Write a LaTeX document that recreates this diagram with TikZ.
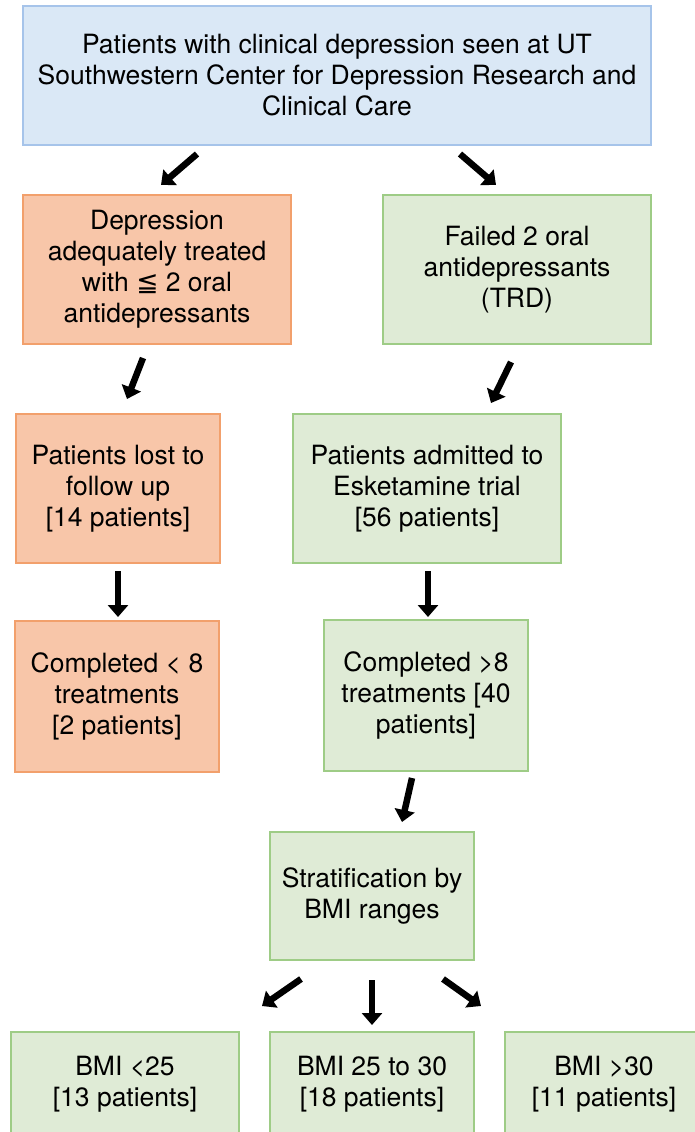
\documentclass[tikz,border=0pt]{standalone}
\usepackage{fontspec}
\setmainfont{TeX Gyre Heros}
\newfontfamily\symfont{DejaVu Sans}
\usetikzlibrary{arrows.meta}
\definecolor{bluefill}{HTML}{DAE8F6}
\definecolor{bluedraw}{HTML}{A6C4EA}
\definecolor{orfill}{HTML}{F8C6A9}
\definecolor{ordraw}{HTML}{F2A06C}
\definecolor{grfill}{HTML}{DFEBD6}
\definecolor{grdraw}{HTML}{9ECC86}
\tikzset{
  box/.style={rectangle, inner sep=0pt, line width=1.2pt, align=center,
    font=\fontsize{26.5}{31}\selectfont},
  bluebox/.style={box, fill=bluefill, draw=bluedraw},
  orbox/.style={box, fill=orfill, draw=ordraw},
  grbox/.style={box, fill=grfill, draw=grdraw},
  blockarrow/.style={line width=6.5pt, -{Triangle[width=20pt,length=12pt]}, black},
}
\begin{document}
\begin{tikzpicture}[x=1pt,y=-1pt]
\useasboundingbox (0,0) rectangle (695,1132);
\clip (0,0) rectangle (695,1132);
\node[bluebox, minimum width=628pt, minimum height=139pt] (top) at (337,75.5)
  {Patients with clinical depression seen at UT\\Southwestern Center for Depression Research and\\Clinical Care};
\node[orbox, minimum width=268pt, minimum height=149pt] (l1) at (157,269.5)
  {Depression\\adequately treated\\with {\symfont ≦} 2 oral\\antidepressants};
\node[grbox, minimum width=268pt, minimum height=149pt] (r1) at (517,269.5)
  {Failed 2 oral\\antidepressants\\(TRD)};
\node[orbox, minimum width=204pt, minimum height=149pt] (l2) at (118,488.5)
  {Patients lost to\\follow up\\{[}14 patients{]}};
\node[grbox, minimum width=268pt, minimum height=149pt] (r2) at (427,488.5)
  {Patients admitted to\\Esketamine trial\\{[}56 patients{]}};
\node[orbox, minimum width=204pt, minimum height=151pt] (l3) at (117,696.5)
  {Completed < 8\\treatments\\{[}2 patients{]}};
\node[grbox, minimum width=204pt, minimum height=151pt] (r3) at (426,695.5)
  {Completed >8\\treatments {[}40\\patients{]}};
\node[grbox, minimum width=204pt, minimum height=128pt] (strat) at (372,896)
  {Stratification by\\BMI ranges};
\node[grbox, minimum width=228pt, minimum height=104pt] (b1) at (125,1084)
  {BMI <25\\{[}13 patients{]}};
\node[grbox, minimum width=204pt, minimum height=104pt] (b2) at (372,1084)
  {BMI 25 to 30\\{[}18 patients{]}};
\node[grbox, minimum width=198pt, minimum height=104pt] (b3) at (604,1084)
  {BMI >30\\{[}11 patients{]}};
% arrow end points
\coordinate (a1s) at (197,154); \coordinate (a1e) at (161,185);
\coordinate (a2s) at (460,154); \coordinate (a2e) at (496,185);
\coordinate (a3s) at (143,358); \coordinate (a3e) at (127,399);
\coordinate (a4s) at (511,362); \coordinate (a4e) at (491,403);
\coordinate (a5s) at (118,571); \coordinate (a5e) at (118,617);
\coordinate (a6s) at (428,571); \coordinate (a6e) at (428,617);
\coordinate (a7s) at (412,778); \coordinate (a7e) at (402,822);
\coordinate (a8s) at (301,979); \coordinate (a8e) at (262,1006);
\coordinate (a9s) at (372,980); \coordinate (a9e) at (372,1025);
\coordinate (a10s) at (443,979); \coordinate (a10e) at (481,1006);
\draw[blockarrow] (a1s) -- (a1e);
\draw[blockarrow] (a2s) -- (a2e);
\draw[blockarrow] (a3s) -- (a3e);
\draw[blockarrow] (a4s) -- (a4e);
\draw[blockarrow] (a5s) -- (a5e);
\draw[blockarrow] (a6s) -- (a6e);
\draw[blockarrow] (a7s) -- (a7e);
\draw[blockarrow] (a8s) -- (a8e);
\draw[blockarrow] (a9s) -- (a9e);
\draw[blockarrow] (a10s) -- (a10e);
\end{tikzpicture}
\end{document}
